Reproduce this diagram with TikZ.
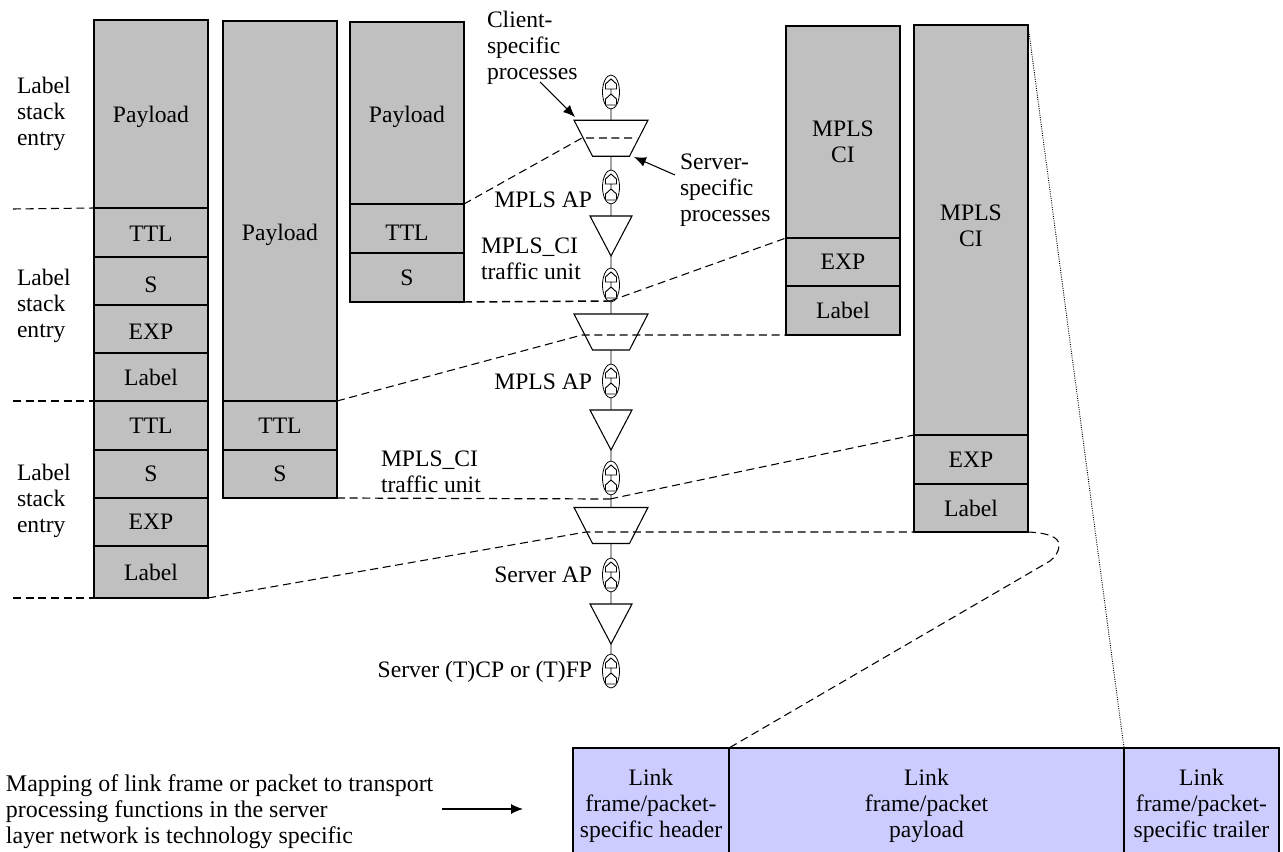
\documentclass[tikz,border=0pt]{standalone}
\usepackage{fontspec}
\setmainfont{Liberation Serif}
\usetikzlibrary{arrows.meta, shapes, positioning}

\definecolor{cellgray}{HTML}{C0C0C0}
\definecolor{linkblue}{HTML}{CCCCFF}

\tikzset{
  txt/.style={inner sep=0pt, outer sep=0pt, align=left},
  cell/.style={draw, fill=cellgray, line width=0.8pt, inner sep=0pt, outer sep=0pt,
               align=center, minimum width=85.5pt, minimum height=#1*0.75pt},
  linkcell/.style={draw, fill=linkblue, line width=0.9pt, inner sep=0pt, outer sep=0pt,
               align=center, minimum height=87pt, minimum width=#1*0.75pt},
  frame/.style={line width=1.7pt},
  dashline/.style={dash pattern=on 6pt off 3.5pt, line width=0.8pt},
  pointer/.style={-{Latex[length=9pt,width=7.5pt]}, line width=0.8pt},
  adapt/.style={draw, trapezium, shape border rotate=180, trapezium angle=63.4,
                minimum width=55.5pt, minimum height=27pt, inner sep=0pt, outer sep=0pt,
                trapezium stretches=true, line width=0.8pt},
  term/.style={draw, isosceles triangle, shape border rotate=270, anchor=apex,
               isosceles triangle stretches, minimum width=31.5pt, minimum height=30pt,
               inner sep=0pt, outer sep=0pt, line width=0.8pt},
  apsym/.style={draw, ellipse, minimum width=12.75pt, minimum height=25.5pt,
                inner sep=0pt, outer sep=0pt, line width=0.6pt,
                path picture={
                  \draw[shift={(path picture bounding box.center)}, line width=0.7pt]
                    (-5.5,-3) -- (-5.5,-8) -- (0,-13) -- (5.5,-8) -- (5.5,-3) -- cycle
                    (0,-3) -- (0,2)
                    (-5.5,13) -- (-5.5,7) -- (0,2) -- (5.5,7) -- (5.5,13) -- cycle;
                }},
}
\newcommand{\adgap}{\hspace*{10pt}\rule{0pt}{10pt}}

\begin{document}
\begin{tikzpicture}[x=0.75pt, y=-0.75pt, font=\fontsize{17.7}{19.5}\selectfont, node distance=0pt]
\useasboundingbox (0,0) rectangle (1283,852);

% first stack
\node[cell=188, anchor=north, text height=17pt] (a0) at (151,20) {Payload};
\node[cell=49, below=of a0, text height=13pt] (a1) {TTL};
\node[cell=48, below=of a1, text height=18pt] (a2) {S};
\node[cell=48, below=of a2, text height=16.4pt] (a3) {EXP};
\node[cell=48, below=of a3] (a4) {Label};
\node[cell=49, below=of a4] (a5) {TTL};
\node[cell=48, below=of a5] (a6) {S};
\node[cell=48, below=of a6] (a7) {EXP};
\node[cell=52, below=of a7] (a8) {Label};

% second stack
\node[cell=380, anchor=north, text height=48.5pt] (b0) at (280,21) {Payload};
\node[cell=49, below=of b0] (b1) {TTL};
\node[cell=48, below=of b1] (b2) {S};

% third stack
\node[cell=182, anchor=north, text height=18.5pt] (c0) at (407,22) {Payload};
\node[cell=49, below=of c0, text height=18.7pt] (c1) {TTL};
\node[cell=49, below=of c1] (c2) {S};

% right stacks
\node[cell=212, anchor=north] (d0) at (843,26) {};
\node[cell=48, below=of d0] (d1) {EXP};
\node[cell=49, below=of d1] (d2) {Label};
\node[cell=410, anchor=north] (e0) at (971,25) {};
\node[cell=49, below=of e0] (e1) {EXP};
\node[cell=48, below=of e1] (e2) {Label};
\node[txt, align=center] (d0t) at (843,141.5) {MPLS\\CI};
\node[txt, align=center] (e0t) at (971,226) {MPLS\\CI};

\foreach \first/\last in {a0/a8, b0/b2, c0/c2, d0/d2, e0/e2}
  \draw[frame] (\first.north west) rectangle (\last.south east);

% link frame
\node[linkcell=156, anchor=north west] (h1) at (573,748) {Link\\frame/packet-\\specific header};
\node[linkcell=395, right=of h1] (h2) {Link\\frame/packet\\payload};
\node[linkcell=155, right=of h2] (h3) {Link\\frame/packet-\\specific trailer};
\draw[frame] (h1.north west) rectangle (h3.south east);

% adaptation column
\node[apsym] (ap1) at (611,92) {};
\node[adapt] (ad1) at (611,138.25) {\adgap};
\node[apsym] (ap2) at (611,187) {};
\node[term] (tr1) at (611,256) {};
\node[apsym] (ap3) at (611,285) {};
\node[adapt] (ad2) at (611,332) {\adgap};
\node[apsym] (ap4) at (611,381) {};
\node[term] (tr2) at (611,450) {};
\node[apsym] (ap5) at (611,478) {};
\node[adapt] (ad3) at (611,525.5) {\adgap};
\node[apsym] (ap6) at (611,575) {};
\node[term] (tr3) at (611,644) {};
\node[apsym] (ap7) at (611,671) {};

\draw (ap1) -- (ad1) (ad1) -- (ap2) (ap2) -- (tr1.north) (tr1.apex) -- (ap3)
      (ap3) -- (ad2) (ad2) -- (ap4) (ap4) -- (tr2.north) (tr2.apex) -- (ap5)
      (ap5) -- (ad3) (ad3) -- (ap6) (ap6) -- (tr3.north) (tr3.apex) -- (ap7);

% dashed ends
\coordinate (l1) at (13,209);
\coordinate (l2) at (13,401);
\coordinate (l3) at (13,598);
\coordinate (m1l) at (582,138);
\coordinate (m1r) at (637,138);
\coordinate (m2l) at (582,335);
\coordinate (m3l) at (586,532);
\coordinate (u1) at (610,301);
\coordinate (u2) at (610,499);
\coordinate (u3) at (1059,545);

\draw[dashline] (l1) -- (a1.north west);
\draw[dashline] (l2) -- (a5.north west);
\draw[dashline] (l3) -- (a8.south west);
\draw[dashline] (a8.south east) -- (m3l) -- (e2.south west);
\draw[dashline] (b1.north east) -- (m2l) -- (d2.south west);
\draw[dashline, line width=0.9pt] (b2.south east) -- (u2);
\draw[dashline] (c1.north east) -- (m1l) -- (m1r);
\draw[dashline, line width=1.1pt] (c2.south east) -- (u1);
\draw[dashline] (u1) -- (d1.north west);
\draw[dashline] (u2) -- (e1.north west);
\draw[dashline] (e2.south east) .. controls (1048,533) and (1059,537) .. (u3)
   .. controls (1059,552) and (1055,557) .. (1050,561) -- (h1.north east);
\draw[densely dotted, line width=0.7pt] (e0.north east) -- (h2.north east);

% labels
\node[txt, anchor=west] (q1) at (17,113.5) {Label\\stack\\entry};
\node[txt, anchor=west] (q2) at (17,306) {Label\\stack\\entry};
\node[txt, anchor=west] (q3) at (17,500.5) {Label\\stack\\entry};
\node[txt, anchor=west] (cs) at (487,47.5) {Client-\\specific\\processes};
\node[txt, anchor=west] (ss) at (680,190) {Server-\\specific\\processes};
\node[txt, anchor=east] (t1) at (592,199.5) {MPLS AP};
\node[txt, anchor=west] (t2) at (481,259) {MPLS\_CI\\traffic unit};
\node[txt, anchor=east] (t3) at (592,381.5) {MPLS AP};
\node[txt, anchor=west] (t4) at (381,472) {MPLS\_CI\\traffic unit};
\node[txt, anchor=east] (t5) at (592,574.5) {Server AP};
\node[txt, anchor=east] (t6) at (592,672) {Server (T)CP or (T)FP};
\node[txt, anchor=west, font=\fontsize{17.95}{19.7}\selectfont] (mp) at (6,811.5) {Mapping of link frame or packet to transport\\processing functions in the server\\layer network is technology specific};

% arrows
\coordinate (k1) at (540,82);
\coordinate (k2) at (575,117);
\coordinate (k3) at (675,175);
\coordinate (k4) at (634,157);
\coordinate (k5) at (442,809);
\coordinate (k6) at (523,809);
\draw[pointer] (k1) -- (k2);
\draw[pointer] (k3) -- (k4);
\draw[pointer] (k5) -- (k6);
\end{tikzpicture}
\end{document}
